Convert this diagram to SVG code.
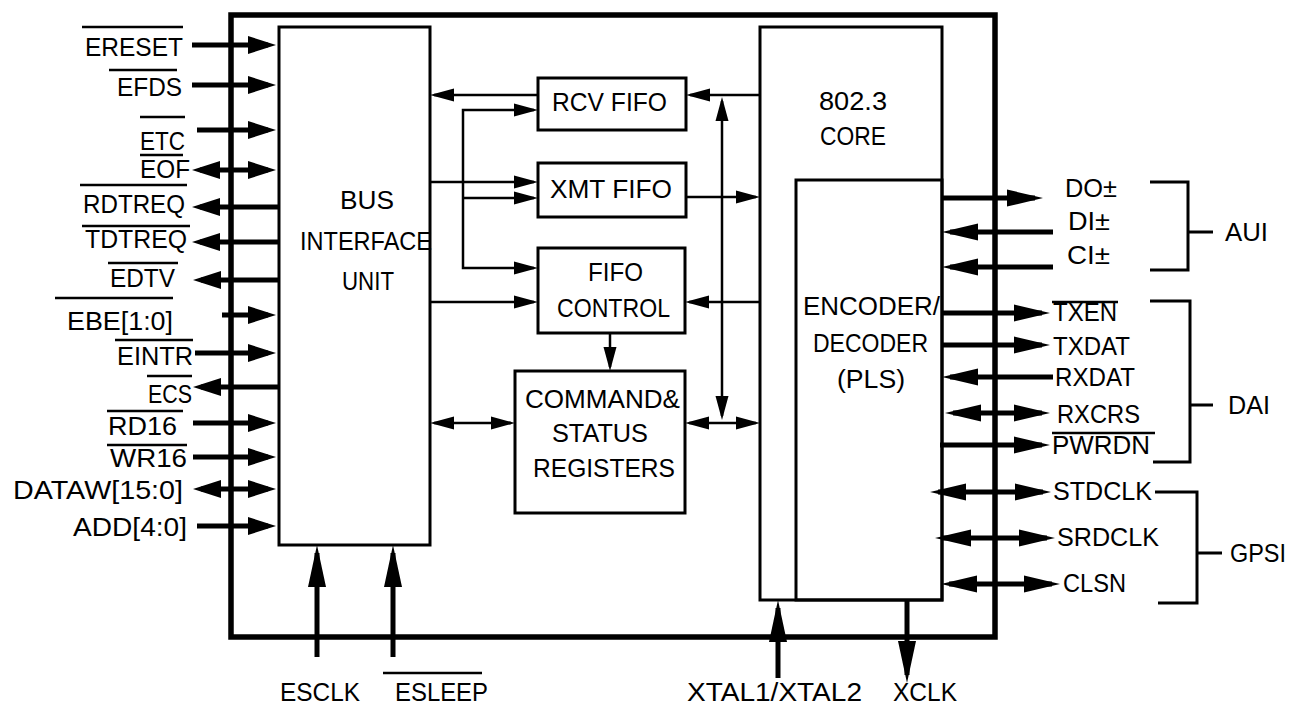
<svg xmlns="http://www.w3.org/2000/svg" width="1295" height="708" viewBox="0 0 1295 708">
<style>
text{font-family:"Liberation Sans",Arial,Helvetica,sans-serif;fill:#000;}
.lbl{font-size:25px;}
.in{font-size:26px;}
.box{fill:none;stroke:#000;stroke-width:3;}
.chip{fill:none;stroke:#000;stroke-width:5.5;}
.thick{fill:none;stroke:#000;stroke-width:5;}
.thin{fill:none;stroke:#000;stroke-width:2.5;}
.ov{stroke:#000;stroke-width:2.5;}
.br{fill:none;stroke:#000;stroke-width:3;}
.aL{marker-end:url(#aL);}
.aL2{marker-start:url(#aL);marker-end:url(#aL);}
.aR{marker-end:url(#aR);}
.aR2{marker-start:url(#aR);marker-end:url(#aR);}
.aB{marker-end:url(#aB);}
.t1{marker-end:url(#t);}
.t2{marker-start:url(#t);marker-end:url(#t);}
</style>
<defs>
<marker id="aL" markerUnits="userSpaceOnUse" markerWidth="40" markerHeight="24" refX="20" refY="0" orient="auto-start-reverse" overflow="visible"><path d="M0,-9 L28,0 L0,9 z" fill="#000"/></marker>
<marker id="aR" markerUnits="userSpaceOnUse" markerWidth="44" markerHeight="24" refX="28" refY="0" orient="auto-start-reverse" overflow="visible"><path d="M0,-8.5 L36,0 L0,8.5 z" fill="#000"/></marker>
<marker id="aB" markerUnits="userSpaceOnUse" markerWidth="48" markerHeight="24" refX="34" refY="0" orient="auto-start-reverse" overflow="visible"><path d="M0,-9 L42,0 L0,9 z" fill="#000"/></marker>
<marker id="t" markerUnits="userSpaceOnUse" markerWidth="30" markerHeight="16" refX="20" refY="0" orient="auto-start-reverse" overflow="visible"><path d="M0,-6.5 L24,0 L0,6.5 z" fill="#000"/></marker>
</defs>
<rect width="1295" height="708" fill="#fff"/>

<g id="chip"><rect class="chip" x="231" y="15" width="764" height="622"/></g>

<g id="biu">
<rect class="box" x="279" y="27" width="151" height="518"/>
<text class="in" x="340" y="209" textLength="54" lengthAdjust="spacingAndGlyphs">BUS</text>
<text class="in" x="300" y="250" textLength="132" lengthAdjust="spacingAndGlyphs">INTERFACE</text>
<text class="in" x="342" y="290" textLength="52" lengthAdjust="spacingAndGlyphs">UNIT</text>
</g>
<g id="rcvfifo">
<rect class="box" x="538" y="78" width="148" height="52"/>
<text class="in" x="552" y="111" textLength="115" lengthAdjust="spacingAndGlyphs">RCV FIFO</text>
</g>
<g id="xmtfifo">
<rect class="box" x="538" y="163" width="148" height="54"/>
<text class="in" x="550" y="198" textLength="122" lengthAdjust="spacingAndGlyphs">XMT FIFO</text>
</g>
<g id="fifoctl">
<rect class="box" x="538" y="248" width="147" height="85"/>
<text class="in" x="588" y="281" textLength="55" lengthAdjust="spacingAndGlyphs">FIFO</text>
<text class="in" x="557" y="317" textLength="113" lengthAdjust="spacingAndGlyphs">CONTROL</text>
</g>
<g id="cmdstat">
<rect class="box" x="515" y="371" width="170" height="142"/>
<text class="in" x="525" y="408" textLength="155" lengthAdjust="spacingAndGlyphs">COMMAND&amp;</text>
<text class="in" x="552" y="442" textLength="96" lengthAdjust="spacingAndGlyphs">STATUS</text>
<text class="in" x="533" y="477" textLength="142" lengthAdjust="spacingAndGlyphs">REGISTERS</text>
</g>
<g id="core">
<rect class="box" x="760" y="27" width="182" height="573"/>
<text class="in" x="819" y="110" textLength="68" lengthAdjust="spacingAndGlyphs">802.3</text>
<text class="in" x="820" y="145" textLength="66" lengthAdjust="spacingAndGlyphs">CORE</text>
</g>
<g id="encdec">
<rect class="box" x="796" y="180" width="146" height="420"/>
<text class="in" x="803" y="315" textLength="137" lengthAdjust="spacingAndGlyphs">ENCODER/</text>
<text class="in" x="813" y="352" textLength="115" lengthAdjust="spacingAndGlyphs">DECODER</text>
<text class="in" x="837" y="388" textLength="68" lengthAdjust="spacingAndGlyphs">(PLS)</text>
</g>

<g id="left-signals">
<text class="lbl" x="85" y="56" textLength="98" lengthAdjust="spacingAndGlyphs">ERESET</text>
<text class="lbl" x="117" y="96" textLength="65" lengthAdjust="spacingAndGlyphs">EFDS</text>
<text class="lbl" x="140" y="150" textLength="45" lengthAdjust="spacingAndGlyphs">ETC</text>
<text class="lbl" x="140" y="178" textLength="50" lengthAdjust="spacingAndGlyphs">EOF</text>
<text class="lbl" x="83" y="213" textLength="102" lengthAdjust="spacingAndGlyphs">RDTREQ</text>
<text class="lbl" x="85" y="248" textLength="102" lengthAdjust="spacingAndGlyphs">TDTREQ</text>
<text class="lbl" x="110" y="287" textLength="65" lengthAdjust="spacingAndGlyphs">EDTV</text>
<text class="lbl" x="67" y="330" textLength="106" lengthAdjust="spacingAndGlyphs">EBE[1:0]</text>
<text class="lbl" x="117" y="365" textLength="76" lengthAdjust="spacingAndGlyphs">EINTR</text>
<text class="lbl" x="148" y="403" textLength="44" lengthAdjust="spacingAndGlyphs">ECS</text>
<text class="lbl" x="108" y="435" textLength="69" lengthAdjust="spacingAndGlyphs">RD16</text>
<text class="lbl" x="110" y="467" textLength="77" lengthAdjust="spacingAndGlyphs">WR16</text>
<text class="lbl" x="13" y="499" textLength="170" lengthAdjust="spacingAndGlyphs">DATAW[15:0]</text>
<text class="lbl" x="73" y="536" textLength="114" lengthAdjust="spacingAndGlyphs">ADD[4:0]</text>
</g>

<g id="right-signals">
<text class="lbl" x="1065" y="197" textLength="52" lengthAdjust="spacingAndGlyphs">DO±</text>
<text class="lbl" x="1068" y="230" textLength="42" lengthAdjust="spacingAndGlyphs">DI±</text>
<text class="lbl" x="1067" y="264" textLength="43" lengthAdjust="spacingAndGlyphs">CI±</text>
<text class="lbl" x="1053" y="321" textLength="64" lengthAdjust="spacingAndGlyphs">TXEN</text>
<text class="lbl" x="1053" y="355" textLength="77" lengthAdjust="spacingAndGlyphs">TXDAT</text>
<text class="lbl" x="1055" y="386" textLength="80" lengthAdjust="spacingAndGlyphs">RXDAT</text>
<text class="lbl" x="1057" y="423" textLength="83" lengthAdjust="spacingAndGlyphs">RXCRS</text>
<text class="lbl" x="1052" y="454" textLength="98" lengthAdjust="spacingAndGlyphs">PWRDN</text>
<text class="lbl" x="1053" y="500" textLength="99" lengthAdjust="spacingAndGlyphs">STDCLK</text>
<text class="lbl" x="1057" y="546" textLength="102" lengthAdjust="spacingAndGlyphs">SRDCLK</text>
<text class="lbl" x="1063" y="592" textLength="63" lengthAdjust="spacingAndGlyphs">CLSN</text>
</g>

<g id="aui">
<path class="br" d="M1150,182 H1188 V270 H1150 M1188,232 H1213"/>
<text class="in" x="1225" y="241" textLength="43" lengthAdjust="spacingAndGlyphs">AUI</text>
</g>
<g id="dai">
<path class="br" d="M1150,301 H1190 V462 H1153 M1190,405 H1213"/>
<text class="in" x="1228" y="414" textLength="42" lengthAdjust="spacingAndGlyphs">DAI</text>
</g>
<g id="gpsi">
<path class="br" d="M1155,492 H1197 V603 H1158 M1197,553 H1222"/>
<text class="in" x="1230" y="562" textLength="56" lengthAdjust="spacingAndGlyphs">GPSI</text>
</g>

<g id="bottom-signals">
<text class="in" x="280" y="701" textLength="80" lengthAdjust="spacingAndGlyphs">ESCLK</text>
<text class="in" x="395" y="701" textLength="93" lengthAdjust="spacingAndGlyphs">ESLEEP</text>
<text class="in" x="687" y="701" textLength="175" lengthAdjust="spacingAndGlyphs">XTAL1/XTAL2</text>
<text class="in" x="893" y="701" textLength="64" lengthAdjust="spacingAndGlyphs">XCLK</text>
</g>

<g id="overlines">
<line class="ov" x1="82" y1="27" x2="183" y2="27"/>
<line class="ov" x1="109" y1="70" x2="177" y2="70"/>
<line class="ov" x1="140" y1="117" x2="185" y2="117"/>
<line class="ov" x1="140" y1="155" x2="183" y2="155"/>
<line class="ov" x1="80" y1="185" x2="187" y2="185"/>
<line class="ov" x1="82" y1="226" x2="190" y2="226"/>
<line class="ov" x1="108" y1="263" x2="178" y2="263"/>
<line class="ov" x1="55" y1="298" x2="173" y2="298"/>
<line class="ov" x1="115" y1="340" x2="193" y2="340"/>
<line class="ov" x1="147" y1="376" x2="192" y2="376"/>
<line class="ov" x1="107" y1="411" x2="183" y2="411"/>
<line class="ov" x1="107" y1="445" x2="187" y2="445"/>
<line class="ov" x1="383" y1="673" x2="482" y2="673"/>
<line class="ov" x1="1052" y1="302" x2="1118" y2="302"/>
<line class="ov" x1="1052" y1="433" x2="1155" y2="433"/>
</g>

<g id="connectors">
<path class="thick aL" d="M192,45 H268"/>
<path class="thick aL" d="M192,85 H268"/>
<path class="thick aL" d="M197,130 H268"/>
<path class="thick aL2" d="M200,170 H268"/>
<path class="thick aL" d="M280,207 H200"/>
<path class="thick aL" d="M280,242 H200"/>
<path class="thick aL" d="M280,280 H201"/>
<path class="thick aL" d="M222,315 H268"/>
<path class="thick aL" d="M195,353 H268"/>
<path class="thick aL" d="M280,387 H201"/>
<path class="thick aL" d="M193,423 H268"/>
<path class="thick aL" d="M193,457 H268"/>
<path class="thick aL2" d="M201,489 H268"/>
<path class="thick aL" d="M197,526 H268"/>
<path class="thick aR" d="M942,198 H1035"/>
<path class="thick aR" d="M1053,232 H950"/>
<path class="thick aR" d="M1053,267 H950"/>
<path class="thick aR" d="M942,313 H1042"/>
<path class="thick aR" d="M942,345 H1042"/>
<path class="thick aR" d="M1053,377 H950"/>
<path class="thick aR2" d="M953,413 H1042"/>
<path class="thick aR" d="M940,445 H1042"/>
<path class="thick aR2" d="M938,492 H1043"/>
<path class="thick aR2" d="M943,538 H1047"/>
<path class="thick aR2" d="M949,584 H1052"/>
<path class="thick aB" d="M317,657 V553"/>
<path class="thick aB" d="M393,657 V553"/>
<path class="thick aB" d="M778,678 V608"/>
<path class="thick aB" d="M907,600 V675"/>
<path class="thin t1" d="M538,95 H434"/>
<path class="thin t1" d="M760,95 H690"/>
<path class="thin t2" d="M534,110 H463 V268 H534"/>
<path class="thin t1" d="M463,198 H534"/>
<path class="thin t1" d="M430,182 H534"/>
<path class="thin t1" d="M686,197 H756"/>
<path class="thin t1" d="M430,302 H534"/>
<path class="thin t1" d="M760,302 H689"/>
<path class="thin t1" d="M610,333 V367"/>
<path class="thin t2" d="M434,423 H511"/>
<path class="thin t2" d="M689,423 H756"/>
<path class="thin t2" d="M722,101 V416"/>
</g>
</svg>
